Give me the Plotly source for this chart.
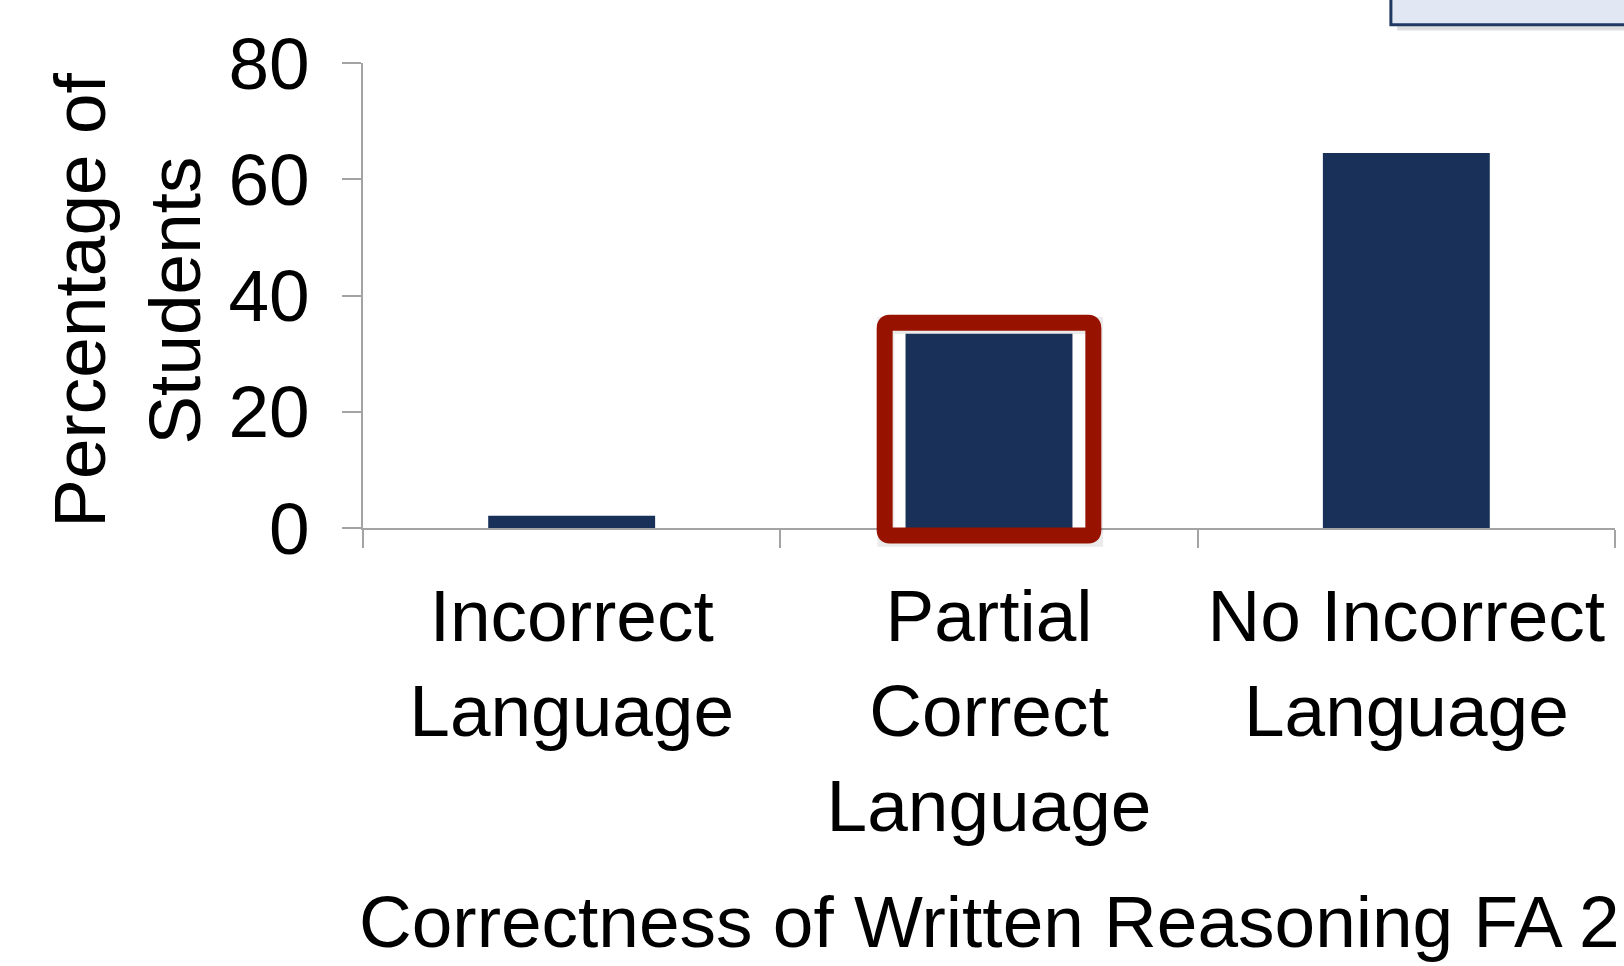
import plotly.graph_objects as go

# Category labels and percentages
categories = ["Incorrect<br>Language", "Partial<br>Correct<br>Language", "No Incorrect<br>Language"]
percentages = [2.1, 33.4, 64.5]
y_ticks = [0, 20, 40, 60, 80]

BAR_COLOR = "#193158"
AXIS_COLOR = "#a3a3a3"
HIGHLIGHT = "#981200"
FONT = "Liberation Sans, Arial, Helvetica, sans-serif"
FS = 73

Y_MAX = 80
N = len(categories)


def xp(i):
    """category index -> paper x"""
    return (i + 0.5) / N


def yp(v):
    """value -> paper y"""
    return v / Y_MAX


fig = go.Figure(
    go.Bar(
        x=categories,
        y=percentages,
        marker=dict(color=BAR_COLOR, line=dict(width=0)),
        width=0.4,
    )
)

# rounded highlight frame around the middle bar
hx0, hx1 = xp(1 - 0.25), xp(1 + 0.25)
hy0, hy1 = yp(-1.3), yp(35.3)
rx, ry = 0.004, 0.012
frame_path = (
    f"M{hx0 + rx},{hy1} L{hx1 - rx},{hy1} Q{hx1},{hy1} {hx1},{hy1 - ry} "
    f"L{hx1},{hy0 + ry} Q{hx1},{hy0} {hx1 - rx},{hy0} "
    f"L{hx0 + rx},{hy0} Q{hx0},{hy0} {hx0},{hy0 + ry} "
    f"L{hx0},{hy1 - ry} Q{hx0},{hy1} {hx0 + rx},{hy1} Z"
)
shadow_dx, shadow_dy = 0.001, -0.006
sh_path = (
    f"M{hx0 + shadow_dx},{hy1 + shadow_dy} L{hx1 + shadow_dx},{hy1 + shadow_dy} "
    f"L{hx1 + shadow_dx},{hy0 + shadow_dy} L{hx0 + shadow_dx},{hy0 + shadow_dy} Z"
)

shapes = [
    dict(type="path", xref="paper", yref="paper", path=sh_path,
         line=dict(color="rgba(0,0,0,0.08)", width=17), layer="above"),
    dict(type="path", xref="paper", yref="paper", path=frame_path,
         line=dict(color=HIGHLIGHT, width=16), layer="above"),
    # corner of a callout box at the top right
    dict(type="rect", xref="paper", yref="paper",
         x0=0.826, x1=1.05, y0=1.070, y1=1.25,
         fillcolor="rgba(0,0,0,0.13)", line=dict(width=0), layer="above"),
    dict(type="rect", xref="paper", yref="paper",
         x0=0.821, x1=1.05, y0=1.082, y1=1.25,
         fillcolor="#e1e8f3", line=dict(color="#1f3864", width=3), layer="above"),
]

fig.update_layout(
    width=1624,
    height=966,
    margin=dict(l=363, r=9, t=63, b=438),
    paper_bgcolor="white",
    plot_bgcolor="white",
    showlegend=False,
    font=dict(family=FONT, size=FS, color="black"),
    shapes=shapes,
    xaxis=dict(
        type="category",
        categoryorder="array",
        categoryarray=categories,
        range=[-0.5, N - 0.5],
        tickson="boundaries",
        ticks="outside",
        ticklen=18,
        tickwidth=1.5,
        tickcolor=AXIS_COLOR,
        showline=True,
        linecolor=AXIS_COLOR,
        linewidth=1.5,
        showgrid=False,
        zeroline=False,
        tickfont=dict(family=FONT, size=FS, color="black"),
        ticklabelstandoff=24,
    ),
    yaxis=dict(
        range=[0, Y_MAX],
        tickmode="array",
        tickvals=y_ticks,
        ticks="outside",
        ticklen=19,
        tickwidth=1.5,
        tickcolor=AXIS_COLOR,
        showline=True,
        linecolor=AXIS_COLOR,
        linewidth=1.5,
        showgrid=False,
        zeroline=False,
        tickfont=dict(family=FONT, size=FS, color="black"),
        ticklabelstandoff=18,
    ),
    annotations=[
        dict(
            text="Percentage of<br>Students",
            xref="paper", yref="paper",
            x=-0.188, y=0.49,
            xanchor="center", yanchor="middle",
            textangle=-90, showarrow=False,
            font=dict(family=FONT, size=FS, color="black"),
        ),
        dict(
            text="Correctness of Written Reasoning FA 2",
            xref="paper", yref="paper",
            x=0.5, y=-0.847,
            xanchor="center", yanchor="middle",
            showarrow=False,
            font=dict(family=FONT, size=FS, color="black"),
        ),
    ],
)

fig.write_html("out.html")
